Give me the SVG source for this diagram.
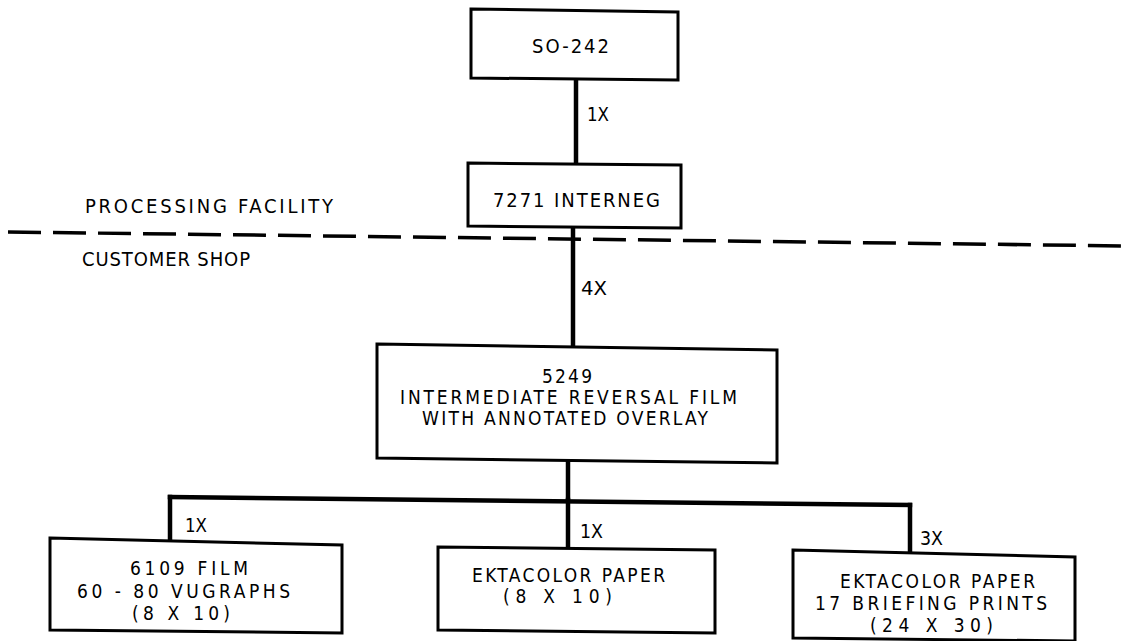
<svg xmlns="http://www.w3.org/2000/svg" width="1128" height="641" viewBox="0 0 1128 641">
<style>
.box{fill:#fff;stroke:#000;stroke-width:3}
.ln{stroke:#000;stroke-width:4.5;fill:none;stroke-linecap:square}
.dash{stroke:#000;stroke-width:3.5;fill:none;stroke-dasharray:33 12}
text{font-family:"DejaVu Sans Condensed","Liberation Sans",Arial,sans-serif;font-size:20px;fill:#000}
.s{font-size:19px}
</style>
<rect width="1128" height="641" fill="#fff"/>
<g id="connectors">
<line class="ln" x1="576" y1="80" x2="576" y2="162"/>
<line class="ln" x1="573" y1="228" x2="573" y2="345"/>
<line class="ln" x1="568" y1="461" x2="568" y2="500"/>
<line class="ln" x1="170" y1="497" x2="910" y2="505"/>
<line class="ln" x1="170" y1="497" x2="170" y2="539"/>
<line class="ln" x1="568" y1="500" x2="568" y2="547"/>
<line class="ln" x1="910" y1="505" x2="910" y2="551"/>
<text x="587" y="121" textLength="22" lengthAdjust="spacingAndGlyphs">1X</text>
<text x="581" y="295" textLength="26" lengthAdjust="spacingAndGlyphs">4X</text>
<text x="185" y="532" textLength="22" lengthAdjust="spacingAndGlyphs">1X</text>
<text x="580" y="538" textLength="23" lengthAdjust="spacingAndGlyphs">1X</text>
<text x="920" y="545" textLength="23" lengthAdjust="spacingAndGlyphs">3X</text>
</g>
<g id="divider">
<line class="dash" x1="8" y1="232" x2="1128" y2="246"/>
<text x="85" y="213" textLength="248" lengthAdjust="spacing">PROCESSING FACILITY</text>
<text x="82" y="266" textLength="168" lengthAdjust="spacing">CUSTOMER SHOP</text>
</g>
<g id="so242">
<polygon class="box" points="471,9 678,12 678,80 471,78"/>
<text x="532" y="53" textLength="77" lengthAdjust="spacing">SO-242</text>
</g>
<g id="interneg">
<polygon class="box" points="468,163 681,165 681,228 468,226"/>
<text x="493" y="207" textLength="167" lengthAdjust="spacing">7271 INTERNEG</text>
</g>
<g id="film5249">
<polygon class="box" points="377,344 777,350 777,463 377,458"/>
<text class="s" x="542" y="383" textLength="50" lengthAdjust="spacing">5249</text>
<text class="s" x="400" y="404" textLength="337" lengthAdjust="spacing">INTERMEDIATE REVERSAL FILM</text>
<text class="s" x="422" y="425" textLength="286" lengthAdjust="spacing">WITH ANNOTATED OVERLAY</text>
</g>
<g id="film6109">
<polygon class="box" points="50,538 342,545 342,633 50,630"/>
<text class="s" x="130" y="575" textLength="118" lengthAdjust="spacing">6109 FILM</text>
<text class="s" x="77" y="598" textLength="213" lengthAdjust="spacing">60 - 80 VUGRAPHS</text>
<text class="s" x="132" y="620" textLength="98" lengthAdjust="spacing">(8 X 10)</text>
</g>
<g id="ekta8x10">
<polygon class="box" points="438,547 715,550 715,633 438,630"/>
<text class="s" x="472" y="582" textLength="193" lengthAdjust="spacing">EKTACOLOR PAPER</text>
<text class="s" x="503" y="603" textLength="109" lengthAdjust="spacing">(8 X 10)</text>
</g>
<g id="ekta24x30">
<polygon class="box" points="793,550 1075,557 1075,641 793,638"/>
<text class="s" x="840" y="588" textLength="195" lengthAdjust="spacing">EKTACOLOR PAPER</text>
<text class="s" x="815" y="610" textLength="232" lengthAdjust="spacing">17 BRIEFING PRINTS</text>
<text class="s" x="870" y="632" textLength="123" lengthAdjust="spacing">(24 X 30)</text>
</g>
</svg>
